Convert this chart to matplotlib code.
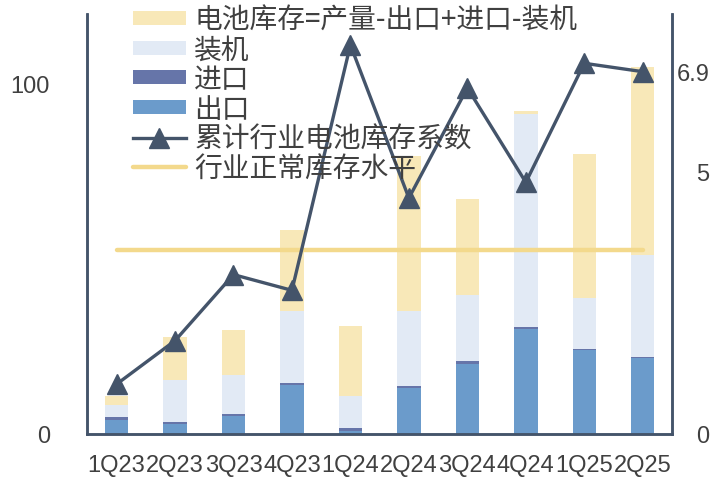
import matplotlib
matplotlib.use('Agg')
import matplotlib.pyplot as plt
from matplotlib import font_manager as fm
from matplotlib.patches import Patch
from matplotlib.lines import Line2D
import numpy as np

# ---------------- data ----------------
quarters = ['1Q23', '2Q23', '3Q23', '4Q23', '1Q24', '2Q24', '3Q24', '4Q24', '1Q25', '2Q25']
export_vals = [3.9, 2.8, 4.9, 13.9, 0.7, 12.9, 19.8, 29.8, 24.0, 21.7]
import_vals = [0.9, 0.5, 0.7, 0.6, 0.9, 0.8, 0.9, 0.7, 0.2, 0.2]
install_vals = [3.4, 12.0, 11.1, 20.6, 9.1, 21.3, 19.0, 60.9, 14.5, 29.3]
inventory_vals = [2.5, 12.2, 12.9, 23.1, 20.1, 44.5, 27.4, 0.8, 41.3, 53.7]
coef_vals = [0.94, 1.77, 3.03, 2.73, 7.41, 4.49, 6.59, 4.79, 7.06, 6.9]
normal_level = 3.5
left_ticks = [0, 100]
left_tick_labels = ['0', '100']
right_ticks = [0, 5, 6.9]
right_tick_labels = ['0', '5', '6.9']
legend_labels = ['电池库存=产量-出口+进口-装机', '装机', '进口', '出口',
                 '累计行业电池库存系数', '行业正常库存水平']

# ---------------- style ----------------
c_export = '#6B9BCB'
c_import = '#6675A9'
c_install = '#E2EAF5'
c_inventory = '#F8E8B8'
c_line = '#44546A'
c_normal = '#F3D98C'
c_text = '#404040'

names = {f.name for f in fm.fontManager.ttflist}
if 'Liberation Sans Narrow' in names:
    num_font = dict(family='Liberation Sans Narrow')
    num_size = 19
else:
    num_font = dict(family='Liberation Sans')
    num_size = 17
cjk_family = ['Noto Sans CJK SC', 'DejaVu Sans']

fig = plt.figure(figsize=(7.26, 4.81), dpi=100)
ax = fig.add_axes([87.3 / 726, 1 - 434.5 / 481, (672 - 87.3) / 726, (434.5 - 15) / 481])
ax2 = ax.twinx()

x = np.arange(len(quarters))
w = 0.40
b1 = np.array(export_vals)
b2 = b1 + np.array(import_vals)
b3 = b2 + np.array(install_vals)
ax.bar(x, export_vals, w, color=c_export, zorder=2)
ax.bar(x, import_vals, w, bottom=b1, color=c_import, zorder=2)
ax.bar(x, install_vals, w, bottom=b2, color=c_install, zorder=2)
ax.bar(x, inventory_vals, w, bottom=b3, color=c_inventory, zorder=2)

ax2.plot([x[0], x[-1]], [normal_level, normal_level], color=c_normal, lw=3.2,
         solid_capstyle='round', zorder=3)
ax2.plot(x, coef_vals, color=c_line, lw=2.4, marker='^', markersize=15,
         markeredgecolor=c_line, markerfacecolor=c_line, zorder=4)

ax.set_xlim(-0.5, 9.5)
ax.set_ylim(0, 120)
ax2.set_ylim(0, 8)

for a in (ax, ax2):
    a.spines['top'].set_visible(False)
    for s in ('left', 'right', 'bottom'):
        a.spines[s].set_color(c_line)
        a.spines[s].set_linewidth(1.8)

ax.set_xticks(x)
ax.set_xticklabels(quarters, fontsize=num_size, color=c_text, **num_font)
ax.set_yticks(left_ticks)
ax.set_yticklabels(left_tick_labels, fontsize=num_size, color=c_text, **num_font)
ax2.set_yticks(right_ticks)
ax2.set_yticklabels(right_tick_labels, fontsize=num_size, color=c_text, **num_font)
for lab in ax2.get_yticklabels():
    lab.set_horizontalalignment('right')
ax.tick_params(axis='x', length=0, pad=15)
ax.tick_params(axis='y', length=0, pad=27)
ax2.tick_params(axis='y', length=0, pad=27)

handles = [
    Patch(facecolor=c_inventory, edgecolor='none'),
    Patch(facecolor=c_install, edgecolor='none'),
    Patch(facecolor=c_import, edgecolor='none'),
    Patch(facecolor=c_export, edgecolor='none'),
    Line2D([], [], color=c_line, lw=2.4, marker='^', markersize=15),
    Line2D([], [], color=c_normal, lw=3.2, solid_capstyle='round'),
]
leg = fig.legend(handles, legend_labels, loc='upper left',
                 bbox_to_anchor=(133 / 726, 1 - 6 / 481), frameon=False,
                 prop=dict(family=cjk_family, size=20), labelcolor=c_text,
                 handlelength=1.9, handleheight=0.4, handletextpad=0.3,
                 labelspacing=-0.015, borderpad=0, borderaxespad=0)

fig.savefig('out.png', dpi=100)
